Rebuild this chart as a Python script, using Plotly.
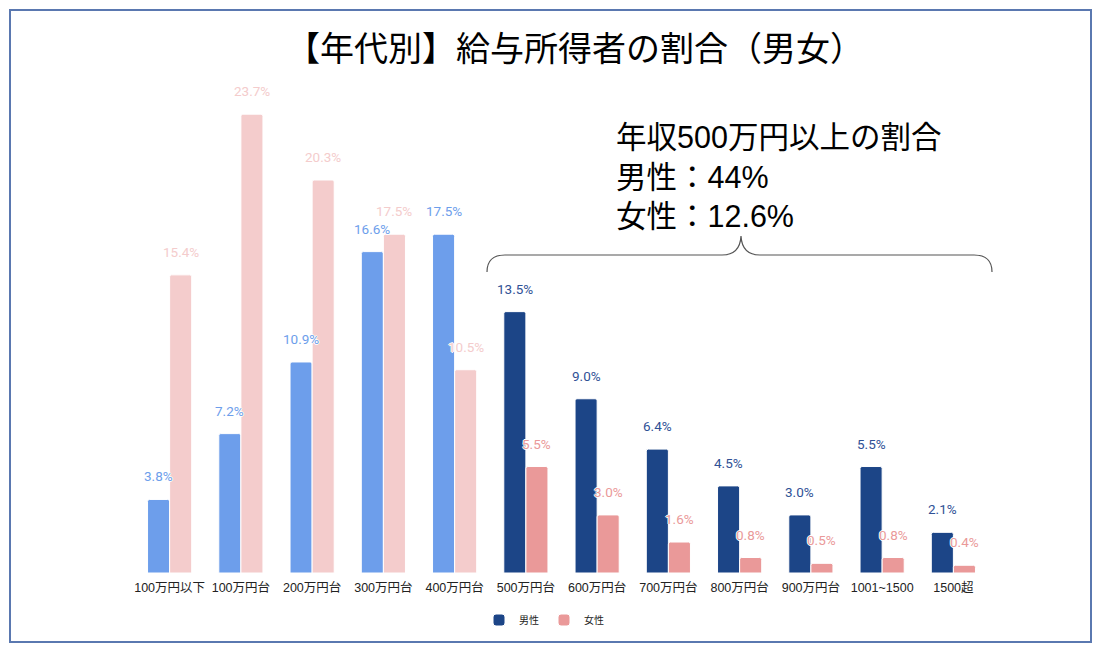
import plotly.graph_objects as go

categories = ["100万円以下", "100万円台", "200万円台", "300万円台", "400万円台",
              "500万円台", "600万円台", "700万円台", "800万円台", "900万円台",
              "1001~1500", "1500超"]
male = [3.8, 7.2, 10.9, 16.6, 17.5, 13.5, 9.0, 6.4, 4.5, 3.0, 5.5, 2.1]
female = [15.4, 23.7, 20.3, 17.5, 10.5, 5.5, 3.0, 1.6, 0.8, 0.5, 0.8, 0.4]
split = 5  # first 5 categories drawn in light colours

title_text = "【年代別】給与所得者の割合（男女）"
note_lines = ["年収500万円以上の割合", "男性：44%", "女性：12.6%"]

C_M_LIGHT = "#6d9eeb"
C_F_LIGHT = "#f4cccc"
C_M_DARK = "#1c4587"
C_F_DARK = "#ea9999"
C_M_DARK_TXT = "#2f5196"

W, H = 1101, 652
ML, MR, MT, MB = 134, 112, 89, 79
PW, PH = W - ML - MR, H - MT - MB
YMAX = 25


def px2paper_x(px):
    return (px - ML) / PW


def py2paper_y(py):
    return (H - MB - py) / PH


fig = go.Figure()

common = dict(marker_line_color="white", marker_line_width=1, marker_cornerradius=2,
              hoverinfo="skip")
fig.add_trace(go.Bar(x=categories[:split], y=male[:split], name="男性", offsetgroup="m",
                     marker_color=C_M_LIGHT, showlegend=False, **common))
fig.add_trace(go.Bar(x=categories[split:], y=male[split:], name="男性", offsetgroup="m",
                     marker_color=C_M_DARK, showlegend=True, **common))
fig.add_trace(go.Bar(x=categories[:split], y=female[:split], name="女性", offsetgroup="f",
                     marker_color=C_F_LIGHT, showlegend=False, **common))
fig.add_trace(go.Bar(x=categories[split:], y=female[split:], name="女性", offsetgroup="f",
                     marker_color=C_F_DARK, showlegend=True, **common))

BARGAP = 0.38
half = (1 - BARGAP) / 4  # offset of each bar centre from category centre

shadow = "1px 0 0 #fff, -1px 0 0 #fff, 0 1px 0 #fff, 0 -1px 0 #fff"
annotations = []
for i, cat in enumerate(categories):
    for val, off, col in ((male[i], -half, C_M_LIGHT if i < split else C_M_DARK_TXT),
                          (female[i], half, C_F_LIGHT if i < split else C_F_DARK)):
        annotations.append(dict(
            x=i + off, y=val, xref="x", yref="y", text=f"{val:.1f}%",
            showarrow=False, yshift=23, yanchor="middle", xanchor="center",
            font=dict(family="Roboto, Noto Sans CJK JP", size=13.5, color=col,
                      shadow=shadow)))

# title
annotations.append(dict(
    x=px2paper_x(575), y=py2paper_y(46), xref="paper", yref="paper",
    text=title_text, showarrow=False, xanchor="center", yanchor="middle",
    font=dict(family="Noto Sans CJK JP", size=34, color="#000")))

# note
annotations.append(dict(
    x=px2paper_x(614), y=py2paper_y(118), xref="paper", yref="paper",
    text="<br>".join(note_lines), showarrow=False, xanchor="left", yanchor="top",
    align="left",
    font=dict(family="Liberation Sans, Noto Sans CJK JP", size=30.5, color="#000")))

# brace (in pixel terms, converted to paper)
def P(px, py):
    return f"{px2paper_x(px):.5f},{py2paper_y(py):.5f}"

brace = (f"M {P(487, 272)} Q {P(487, 255)} {P(505, 255)} L {P(722, 255)} "
         f"Q {P(740, 255)} {P(741, 236)} Q {P(742, 255)} {P(760, 255)} "
         f"L {P(974, 255)} Q {P(992, 255)} {P(992, 272)}")

shapes = [
    dict(type="path", path=brace, xref="paper", yref="paper",
         line=dict(color="#555", width=1.2)),
    dict(type="rect", xref="paper", yref="paper",
         x0=px2paper_x(10), x1=px2paper_x(1091), y0=py2paper_y(642), y1=py2paper_y(10),
         line=dict(color="#5a78b0", width=2), layer="below"),
]

fig.update_layout(
    width=W, height=H,
    margin=dict(l=ML, r=MR, t=MT, b=MB),
    paper_bgcolor="white", plot_bgcolor="white",
    barmode="group", bargap=BARGAP, bargroupgap=0,
    xaxis=dict(type="category", showgrid=False, showline=False, zeroline=False,
               ticks="", ticklabelstandoff=5,
               tickfont=dict(family="Liberation Sans, Noto Sans CJK JP",
                             size=12.5, color="#222")),
    yaxis=dict(range=[0, YMAX], visible=False, showgrid=False, zeroline=False),
    legend=dict(orientation="h", x=px2paper_x(544), xanchor="center",
                y=py2paper_y(620), yanchor="middle",
                font=dict(family="Noto Sans CJK JP", size=10, color="#222"),
                itemwidth=30, traceorder="normal"),
    annotations=annotations,
    shapes=shapes,
    showlegend=True,
)

fig.write_html("out.html", config={"displayModeBar": False},
               post_script="document.body.style.margin='0';document.body.style.overflow='hidden';")
